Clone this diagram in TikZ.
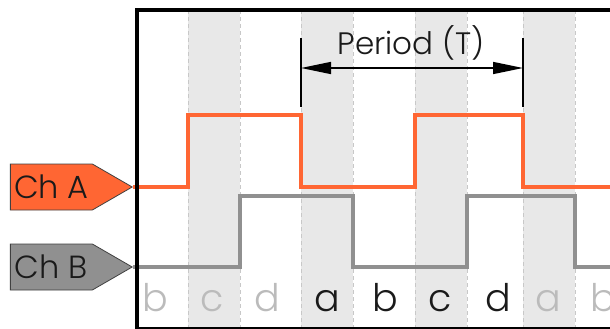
\documentclass[tikz,border=0pt]{standalone}
\usepackage{fontspec}
\setmainfont{Poppins Light}
\usetikzlibrary{shapes.symbols,arrows.meta}
\definecolor{orng}{HTML}{FF6633}
\definecolor{sgray}{HTML}{909090}
\definecolor{shadecol}{HTML}{E8E8E8}
\definecolor{dashcol}{HTML}{C8C8C8}
\definecolor{faint}{HTML}{BBBBBB}
\definecolor{textcol}{HTML}{1A1A1A}
\newcommand{\chtext}[1]{\makebox[78pt]{#1}}
\begin{document}
\begin{tikzpicture}[x=1pt,y=-1pt,
  chlabel/.style={signal, signal to=east, signal pointer angle=60, draw=black!75, line width=0.8pt,
    inner xsep=2pt, inner ysep=0pt, minimum height=46pt,
    font=\fontsize{32}{32}\selectfont, text=textcol},
  lettr/.style={anchor=base, font=\fontsize{38}{38}\selectfont},
  trace/.style={line width=4.5pt, line join=miter},
  tick/.style={line width=1.5pt},
  colshade/.style={fill=shadecol},
  grid/.style={dashcol, dash pattern=on 4pt off 3pt, line width=1pt}
]
\useasboundingbox (0,0) rectangle (610,329);
\begin{scope}
\clip (0,0) rectangle (610,329);
% shaded columns
\foreach \a/\b in {188/240,301/353,415/467,523/575}
  \fill[colshade] (\a,10) rectangle (\b,329);
% dashed grid
\foreach \x in {188,240,301,353,415,467,523,575}
  \draw[grid] (\x,10) -- (\x,329);
% channel labels
\node[chlabel, fill=orng, anchor=east] (cha) at (133,187) {\chtext{Ch A}};
\node[chlabel, fill=sgray, anchor=east] (chb) at (133,267) {\chtext{Ch B}};
% traces
\draw[trace, orng] (cha.east) -- (188,187) -- (188,115) -- (301,115) -- (301,187)
  -- (415,187) -- (415,115) -- (523,115) -- (523,187) -- (620,187);
\draw[trace, sgray] (chb.east) -- (240,267) -- (240,196) -- (353,196) -- (353,267)
  -- (467,267) -- (467,196) -- (575,196) -- (575,267) -- (620,267);
% frame
\draw[line width=4.5pt] (620,10) -- (137,10) -- (137,329) -- (620,329);
\end{scope}
% period marker
\coordinate (pla) at (301,38);
\coordinate (plb) at (301,107);
\coordinate (pra) at (523,38);
\coordinate (prb) at (523,107);
\coordinate (pl) at (301,68);
\coordinate (pr) at (523,68);
\draw[tick] (pla) -- (plb);
\draw[tick] (pra) -- (prb);
\draw[tick, {Triangle[length=30pt,width=12pt]}-{Triangle[length=30pt,width=12pt]}] (pl) -- (pr);
\node[font=\fontsize{31}{31}\selectfont, text=textcol, anchor=base] (per) at (411,55) {Period (T)};
% phase letters
\foreach \x/\t/\c [count=\i] in {155/b/faint,212/c/faint,267/d/faint,327/a/textcol,385/b/textcol,440/c/textcol,498/d/textcol,548/a/faint,603/b/faint}
  \node[lettr, text=\c] (ph\i) at (\x,311) {\t};
\end{tikzpicture}
\end{document}
